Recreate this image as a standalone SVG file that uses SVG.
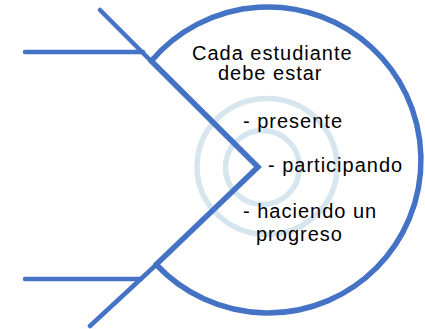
<svg xmlns="http://www.w3.org/2000/svg" width="425" height="329" viewBox="0 0 425 329">
<style>
.ring{fill:none;stroke:#D6E5EE;stroke-width:5.5}
.blue{fill:none;stroke:#4472C4;stroke-linecap:round;stroke-linejoin:miter}
.thick{stroke-width:5.5}
.thin{stroke-width:4.5}
.t{font-family:"Liberation Sans",Arial,sans-serif;font-size:20px;letter-spacing:1px;fill:#000}
</style>
<rect width="425" height="329" fill="#fff"/>
<g id="rings">
<ellipse class="ring" cx="267" cy="166.5" rx="70" ry="68"/>
<circle class="ring" cx="262.5" cy="167.5" r="37"/>
</g>
<g id="connectors">
<line class="blue thin" x1="25" y1="52" x2="143" y2="52"/>
<line class="blue thin" x1="25" y1="279" x2="141" y2="279"/>
<line class="blue thin" x1="100" y1="10" x2="152" y2="62"/>
<line class="blue thin" x1="90" y1="326" x2="157" y2="264"/>
<polyline class="blue thick" points="151.3,61 258,167 156.2,264.5" stroke-linecap="butt"/>
</g>
<g id="head">
<path class="blue thick" d="M151.3,61 A153,153 0 1 1 156.2,264.5" stroke-linecap="butt"/>
</g>
<g id="label">
<text class="t" x="192" y="60">Cada estudiante</text>
<text class="t" x="218" y="80">debe estar</text>
<text class="t" x="243" y="128">- presente</text>
<text class="t" x="268" y="172">- participando</text>
<text class="t" x="243" y="218">- haciendo un</text>
<text class="t" x="256" y="240.5">progreso</text>
</g>
</svg>
